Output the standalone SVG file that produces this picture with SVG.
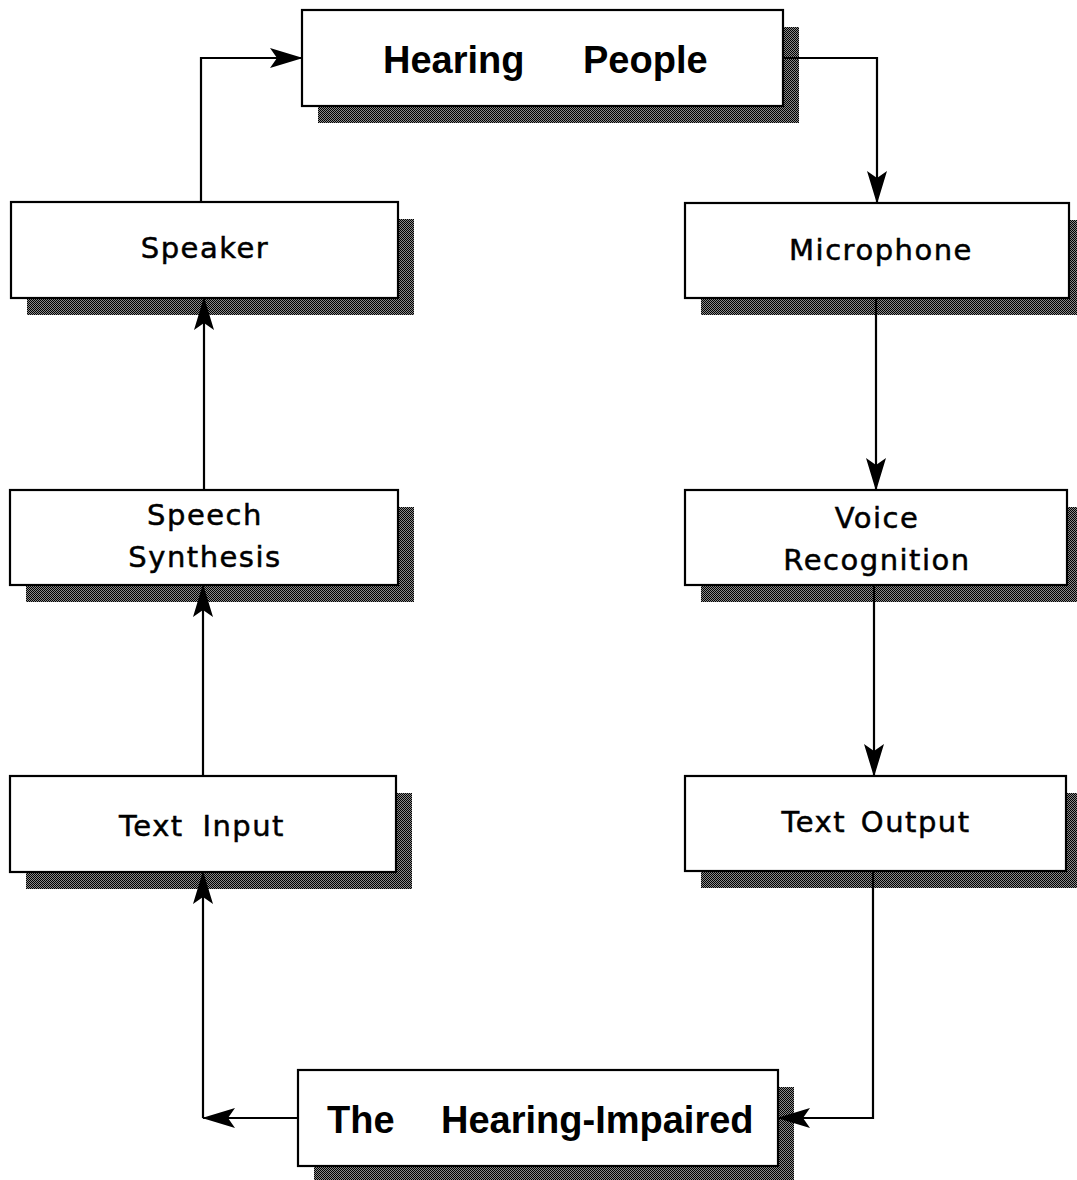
<svg xmlns="http://www.w3.org/2000/svg" width="1077" height="1180" viewBox="0 0 1077 1180">
<defs>
<pattern id="dots" width="2" height="2" patternUnits="userSpaceOnUse">
<rect width="2" height="2" fill="#8a8a8a"/>
<rect width="1" height="1" fill="#000"/>
<rect x="1" y="1" width="1" height="1" fill="#000"/>
</pattern>
<marker id="ah" markerWidth="36" markerHeight="24" viewBox="-34 -12 36 24" refX="0" refY="0" orient="auto" markerUnits="userSpaceOnUse">
<path d="M1,0 L-32,-10 L-25,0 L-32,10 Z" fill="#000"/>
</marker>
<style>
.shadow{fill:url(#dots);}
.box{fill:#fff;stroke:#000;stroke-width:2.2;}
.lbl{font-family:"DejaVu Sans",Verdana,sans-serif;font-size:29px;letter-spacing:1.5px;text-anchor:middle;fill:#000;stroke:#000;stroke-width:0.5;}
.big{font-family:"Liberation Sans",Arial,sans-serif;font-size:38px;font-weight:bold;fill:#000;}
.conn{fill:none;stroke:#000;stroke-width:2.2;}
</style>
</defs>
<rect width="1077" height="1180" fill="#fff"/>
<g id="hearing-people">
<rect class="shadow" x="318" y="27" width="481" height="96"/>
<rect class="box" x="302" y="10" width="481" height="96"/>
<text class="big" y="73"><tspan x="383">Hearing</tspan> <tspan x="583">People</tspan></text>
</g>
<g id="speaker">
<rect class="shadow" x="27" y="219" width="387" height="96"/>
<rect class="box" x="11" y="202" width="387" height="96"/>
<text class="lbl" x="205" y="258">Speaker</text>
</g>
<g id="microphone">
<rect class="shadow" x="701" y="220" width="384" height="95"/>
<rect class="box" x="685" y="203" width="384" height="95"/>
<text class="lbl" x="881" y="260">Microphone</text>
</g>
<g id="speech-synthesis">
<rect class="shadow" x="26" y="507" width="388" height="95"/>
<rect class="box" x="10" y="490" width="388" height="95"/>
<text class="lbl" x="205" y="525">Speech</text>
<text class="lbl" x="205" y="567">Synthesis</text>
</g>
<g id="voice-recognition">
<rect class="shadow" x="701" y="507" width="382" height="95"/>
<rect class="box" x="685" y="490" width="382" height="95"/>
<text class="lbl" x="877" y="528">Voice</text>
<text class="lbl" x="877" y="570">Recognition</text>
</g>
<g id="text-input">
<rect class="shadow" x="26" y="793" width="386" height="96"/>
<rect class="box" x="10" y="776" width="386" height="96"/>
<text class="lbl" x="202" y="836" word-spacing="8">Text Input</text>
</g>
<g id="text-output">
<rect class="shadow" x="701" y="793" width="381" height="95"/>
<rect class="box" x="685" y="776" width="381" height="95"/>
<text class="lbl" x="876" y="832" word-spacing="4">Text Output</text>
</g>
<g id="hearing-impaired">
<rect class="shadow" x="314" y="1087" width="480" height="96"/>
<rect class="box" x="298" y="1070" width="480" height="96"/>
<text class="big" y="1133"><tspan x="327">The</tspan> <tspan x="441">Hearing-Impaired</tspan></text>
</g>
<g id="connectors">
<path class="conn" d="M201,202 V58 H302" marker-end="url(#ah)"/>
<path class="conn" d="M783,58 H877 V203" marker-end="url(#ah)"/>
<path class="conn" d="M876,298 V490" marker-end="url(#ah)"/>
<path class="conn" d="M874,585 V776" marker-end="url(#ah)"/>
<path class="conn" d="M873,871 V1118 H778" marker-end="url(#ah)"/>
<path class="conn" d="M298,1118 H203" marker-end="url(#ah)"/>
<path class="conn" d="M203,1118 V872" marker-end="url(#ah)"/>
<path class="conn" d="M203,776 V585" marker-end="url(#ah)"/>
<path class="conn" d="M204,490 V298" marker-end="url(#ah)"/>
</g>
</svg>
